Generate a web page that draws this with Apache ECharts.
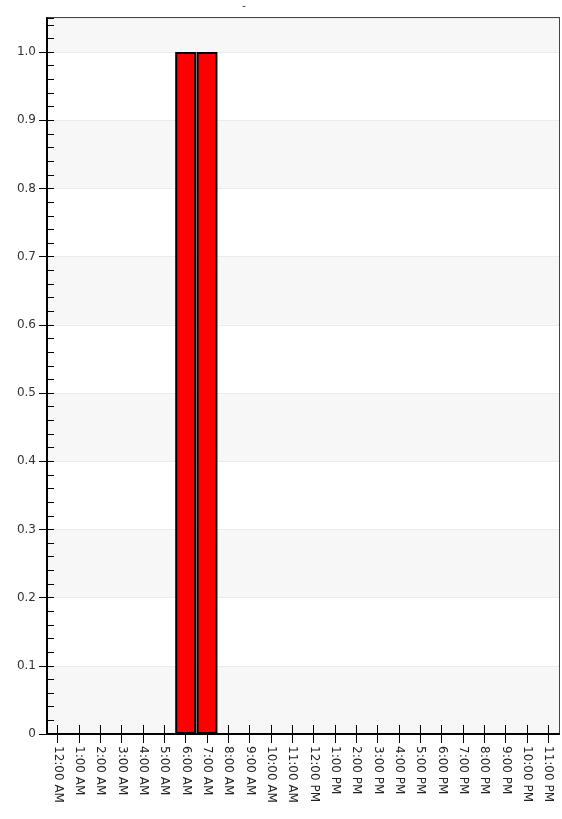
<!DOCTYPE html>
<html>
<head>
<meta charset="utf-8">
<script src="https://cdn.jsdelivr.net/npm/echarts@6/dist/echarts.min.js"></script>
<style>
html,body{margin:0;padding:0;background:#fff;}
#chart{width:562px;height:819px;}
</style>
</head>
<body>
<div id="chart"></div>
<script>
var categories = ['12:00 AM','1:00 AM','2:00 AM','3:00 AM','4:00 AM','5:00 AM','6:00 AM','7:00 AM','8:00 AM','9:00 AM','10:00 AM','11:00 AM','12:00 PM','1:00 PM','2:00 PM','3:00 PM','4:00 PM','5:00 PM','6:00 PM','7:00 PM','8:00 PM','9:00 PM','10:00 PM','11:00 PM'];
var values = [0,0,0,0,0,0,1,1,0,0,0,0,0,0,0,0,0,0,0,0,0,0,0,0];
var titleText = '-';
var yMin = 0, yMax = 1.05, yStep = 0.1, yMinorStep = 0.02;

var font = 'DejaVu Sans';
var chart = echarts.init(document.getElementById('chart'), null, {renderer:'canvas'});
chart.setOption({
  animation: false,
  backgroundColor: '#fff',
  title: {text: titleText, left: 237, top: -4, textStyle: {fontSize: 11, fontWeight: 'normal', color: '#333', fontFamily: font}},
  grid: {left: 47, right: 3, top: 18, bottom: 85, show: true, borderColor: '#444', borderWidth: 2, backgroundColor: 'transparent'},
  xAxis: [{
    type: 'category', data: categories, boundaryGap: true,
    axisLine: {show: true, lineStyle: {color: '#000', width: 2}},
    axisTick: {show: true, interval: 0, alignWithLabel: true, length: 9, lineStyle: {color: '#000', width: 1}},
    axisLabel: {rotate: -90, margin: 12, fontSize: 12, fontFamily: font, color: '#222', interval: 0},
    splitLine: {show: false}
  },{
    type: 'category', data: categories, boundaryGap: true, position: 'bottom',
    axisLine: {show: false},
    axisTick: {show: true, interval: 0, inside: true, alignWithLabel: true, length: 9, lineStyle: {color: '#000', width: 1}},
    axisLabel: {show: false, interval: 0},
    splitLine: {show: false}
  }],
  yAxis: [{
    type: 'value', min: yMin, max: yMax, interval: yStep,
    axisLine: {show: true, lineStyle: {color: '#000', width: 2}},
    axisTick: {show: true, length: 8, lineStyle: {color: '#000', width: 1}},
    axisLabel: {fontSize: 12, fontFamily: font, color: '#333', margin: 11, showMaxLabel: false,
      formatter: function(v){ return v === 0 ? '0' : v.toFixed(1); }},
    splitLine: {show: true, lineStyle: {color: '#ebebeb', width: 1}},
    splitArea: {show: true, areaStyle: {color: ['#f7f7f7', '#ffffff']}}
  },{
    type: 'value', min: yMin, max: yMax, interval: yMinorStep, position: 'left',
    axisLine: {show: false},
    axisTick: {show: true, inside: true, length: 7, lineStyle: {color: '#000', width: 1}},
    axisLabel: {show: false},
    splitLine: {show: false}
  }],
  series: [{
    type: 'bar', data: values, xAxisIndex: 0, yAxisIndex: 0,
    barCategoryGap: '2%',
    itemStyle: {color: '#ff0000', borderColor: '#000', borderWidth: 2}
  }]
});
</script>
</body>
</html>
